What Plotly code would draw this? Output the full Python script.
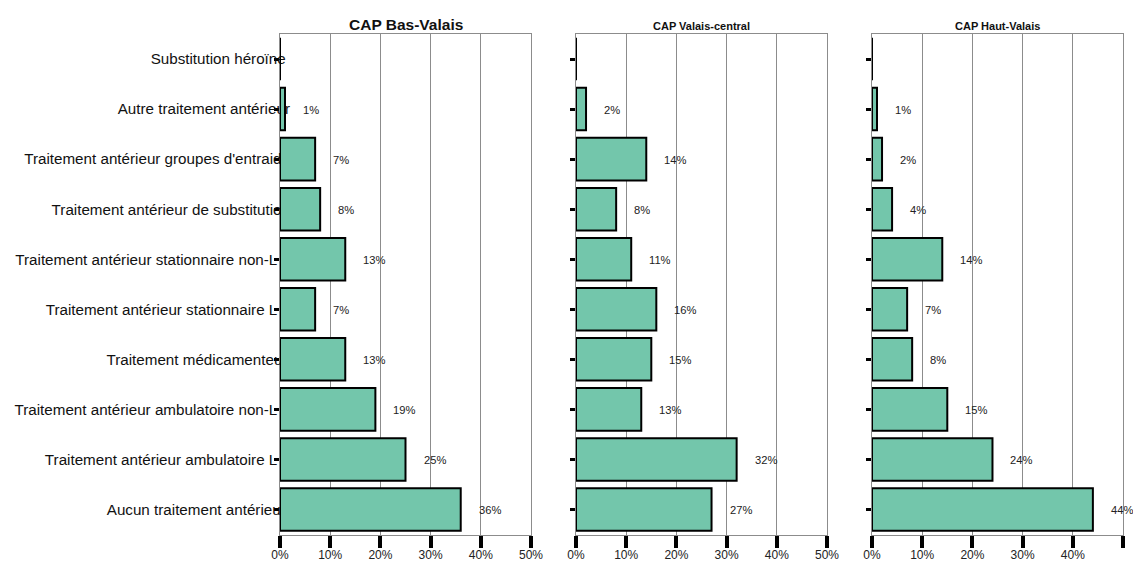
import plotly.graph_objects as go
from plotly.subplots import make_subplots

SP = "\u00a0"

categories = [
    "Aucun traitement antérieur" + SP,
    "Traitement antérieur ambulatoire L" + SP * 3,
    "Traitement antérieur ambulatoire non-L" + SP * 3,
    "Traitement médicamenteux",
    "Traitement antérieur stationnaire L" + SP * 3,
    "Traitement antérieur stationnaire non-L" + SP * 3,
    "Traitement antérieur de substitution",
    "Traitement antérieur groupes d'entraide",
    "Autre traitement antérieur",
    "Substitution héroïne" + SP,
]
panel_titles = ["CAP Bas-Valais", "CAP Valais-central", "CAP Haut-Valais"]
bas_valais = [36, 25, 19, 13, 7, 13, 8, 7, 1, 0]
valais_central = [27, 32, 13, 15, 16, 11, 8, 14, 2, 0]
haut_valais = [44, 24, 15, 8, 7, 14, 4, 2, 1, 0]
x_ticks = [0, 10, 20, 30, 40, 50]
x_tick_text = ["0%", "10%", "20%", "30%", "40%", "50%"]

series = [bas_valais, valais_central, haut_valais]

W, H = 1133, 563
FONT = "Liberation Sans, Arial, sans-serif"
FILL = "#73C6AB"

fig = make_subplots(rows=1, cols=3, shared_yaxes=False)

x_domains = [(280 / W, 531 / W), (576 / W, 827 / W), (872 / W, 1123 / W)]
y_domain = (1 - 534.5 / H, 1 - 34 / H)

for i, vals in enumerate(series):
    col = i + 1
    fig.add_trace(
        go.Bar(
            y=categories,
            x=vals,
            orientation="h",
            width=0.85,
            marker=dict(color=FILL, line=dict(color="black", width=2)),
            hoverinfo="skip",
            showlegend=False,
        ),
        row=1, col=col,
    )
    xa = "x" if i == 0 else f"x{col}"
    ya = "y" if i == 0 else f"y{col}"
    for cat, v in zip(categories, vals):
        if v > 0:
            fig.add_annotation(
                x=v, y=cat, xref=xa, yref=ya,
                text=f"{v}%", showarrow=False,
                xanchor="left", xshift=16, yshift=-1,
                font=dict(family=FONT, size=11.2, color="#222"),
            )

    fig.update_xaxes(
        domain=x_domains[i], range=[0, 50],
        tickvals=x_ticks, ticktext=x_tick_text,
        showgrid=True, gridcolor="#8c8c8c", gridwidth=1,
        showline=True, linecolor="#8c8c8c", linewidth=1, mirror=True,
        ticks="outside", ticklen=12, tickwidth=3.5, tickcolor="black",
        tickfont=dict(family=FONT, size=12, color="#222"),
        ticklabelstandoff=-3,
        zeroline=False, fixedrange=True, automargin=False,
        row=1, col=col,
    )
    fig.update_yaxes(
        domain=y_domain,
        categoryorder="array", categoryarray=categories,
        range=[-0.5, len(categories) - 0.5],
        showline=True, linecolor="#8c8c8c", linewidth=1, mirror=True,
        ticks="outside", ticklen=5, tickwidth=3, tickcolor="black",
        showticklabels=(i == 0),
        tickfont=dict(family=FONT, size=15.2, color="#111"),
        ticklabelstandoff=-19,
        layer="below traces",
        showgrid=False, zeroline=False, fixedrange=True, automargin=False,
        row=1, col=col,
    )

# panel titles
title_sizes = [15.5, 11, 11]
title_y = [24, 26, 26]
for i, t in enumerate(panel_titles):
    d = x_domains[i]
    fig.add_annotation(
        x=(d[0] + d[1]) / 2, y=1 - title_y[i] / H,
        xref="paper", yref="paper", text=f"<b>{t}</b>", showarrow=False,
        xanchor="center", yanchor="middle",
        font=dict(family=FONT, size=title_sizes[i], color="#111"),
    )

fig.update_layout(
    width=W, height=H,
    margin=dict(l=0, r=0, t=0, b=0),
    plot_bgcolor="white", paper_bgcolor="white",
    bargap=0.15,
)

fig.write_html("out.html")
